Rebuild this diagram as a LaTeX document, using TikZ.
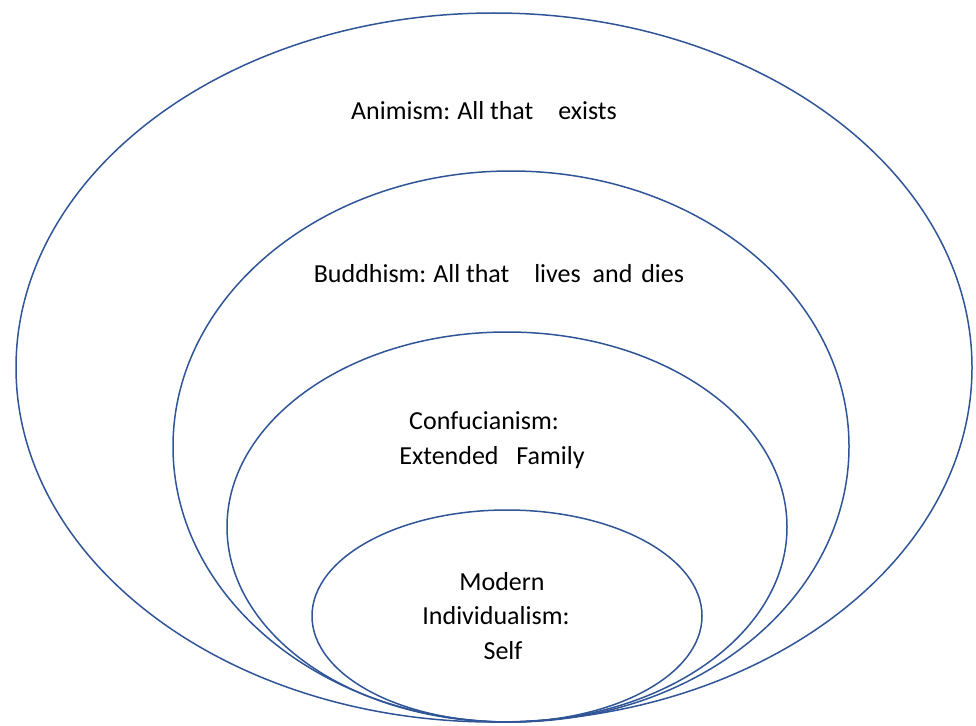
\documentclass[tikz,border=0pt]{standalone}
\usepackage{fontspec}
\setmainfont{Carlito}
\definecolor{ringblue}{HTML}{2F5597}
\begin{document}
\begin{tikzpicture}[x=1pt,y=-1pt,
  ring/.style={draw=ringblue,line width=1.5pt},
  lbl/.style={inner sep=0pt,font=\fontsize{26}{31}\selectfont,text=black}]
\useasboundingbox (0,0) rectangle (976,725);
\draw[ring] (494,367.5) ellipse [x radius=478,y radius=354.5];
\draw[ring] (511,446.5) ellipse [x radius=338,y radius=275.5];
\draw[ring] (507,527) ellipse [x radius=280,y radius=195];
\draw[ring] (507,616) ellipse [x radius=195,y radius=106];
\node[lbl] (t1) at (484,111) {Animism:\hspace{-1pt} All that\hspace{19pt} exists};
\node[lbl] (t2) at (499,274) {Buddhism:\hspace{-1pt} All that\hspace{19pt} lives\hspace{6pt} and\hspace{3pt} dies};
\node[lbl] (t3a) at (484,421) {Confucianism:};
\node[lbl] (t3b) at (492,458) {Extended\hspace{12pt} Family};
\node[lbl] (t4a) at (502,582) {Modern};
\node[lbl] (t4b) at (496,616) {Individualism:};
\node[lbl] (t4c) at (503,651) {Self};
\end{tikzpicture}
\end{document}
